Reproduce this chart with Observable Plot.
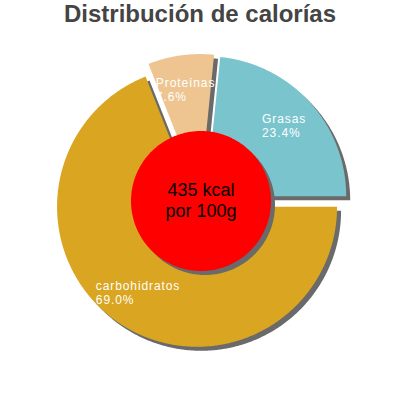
<!DOCTYPE html>
<html><head><meta charset="utf-8">
<script src="https://cdn.jsdelivr.net/npm/d3@7"></script>
<script src="https://cdn.jsdelivr.net/npm/@observablehq/plot@0.6"></script>
<style>
body{margin:0;background:#fff;}
#title{width:400px;height:35px;line-height:33px;text-align:center;font:bold 24px "Liberation Sans",Arial,sans-serif;color:#444;}
</style></head><body>
<div id="title"></div><div id="chart"></div>
<script>
const chartTitle = "Distribución de calorías";
const categories = ["Grasas", "Proteínas", "carbohidratos"];
const percents = [23.4, 7.6, 69.0];
const sliceColors = ["#7AC5CD", "#EEC591", "#DAA520"];
const centerLines = ["435 kcal", "por 100g"];

document.getElementById("title").textContent = chartTitle;

const R = 140, holeR = 70, explode = 7, labelR = 105, shadow = 4, shadowColor = "#6a6a6a";
const letterSp = 0.9;
const toMath = t => Math.PI / 2 - t; // d3 angle (cw from north) -> math angle

const arcs = d3.pie().sort(null).value(d => d)
  .startAngle(Math.PI / 2).endAngle(Math.PI / 2 - 2 * Math.PI)(percents);

const slices = arcs.map((a, i) => {
  const a0 = toMath(a.startAngle), a1 = toMath(a.endAngle);
  const mid = (a0 + a1) / 2;
  return {name: categories[i], color: sliceColors[i], value: percents[i], a0, a1, mid,
    ox: explode * Math.cos(mid), oy: explode * Math.sin(mid)};
});

const polyPts = slices.flatMap(s => {
  const pts = [{slice: s.name, color: s.color, x: s.ox, y: s.oy}];
  const n = Math.max(2, Math.ceil(Math.abs(s.a1 - s.a0) / (Math.PI / 360)));
  for (let k = 0; k <= n; k++) {
    const a = s.a0 + (s.a1 - s.a0) * k / n;
    pts.push({slice: s.name, color: s.color, x: s.ox + R * Math.cos(a), y: s.oy + R * Math.sin(a)});
  }
  return pts;
});

const circlePts = d3.range(0, 361).map(k => {
  const a = k * Math.PI / 180;
  return {x: holeR * Math.cos(a), y: holeR * Math.sin(a)};
});

const canvas = document.createElement("canvas");
const ctx = canvas.getContext("2d");
ctx.font = "12px 'Liberation Sans'";

const labelMarks = slices.flatMap(s => {
  const w = ctx.measureText(s.name).width + s.name.length * letterSp;
  const common = {
    x: d => d.ox + labelR * Math.cos(d.mid),
    y: d => d.oy + labelR * Math.sin(d.mid),
    textAnchor: "start", lineAnchor: "middle",
    dx: -w / 2, fill: "white", fontSize: 12
  };
  return [
    Plot.text([s], {...common, text: d => d.name, dy: -7}),
    Plot.text([s], {...common, text: d => `${d.value.toFixed(1)}%`, dy: 7})
  ];
});

const chart = Plot.plot({
  width: 400, height: 365, margin: 0,
  x: {domain: [-200.5, 199.5], axis: null},
  y: {domain: [-199.5, 165.5], axis: null},
  color: {type: "identity"},
  style: {background: "white", fontFamily: "'Liberation Sans', Arial, sans-serif"},
  marks: [
    Plot.line(polyPts, {x: "x", y: "y", z: "slice", fill: shadowColor, stroke: null, curve: "linear-closed", dx: shadow, dy: shadow}),
    Plot.line(polyPts, {x: "x", y: "y", z: "slice", fill: "color", stroke: null, curve: "linear-closed"}),
    Plot.line(circlePts, {x: "x", y: "y", fill: shadowColor, stroke: null, curve: "linear-closed", dx: shadow, dy: shadow}),
    Plot.line(circlePts, {x: "x", y: "y", fill: "#FF0000", stroke: null, curve: "linear-closed"}),
    ...labelMarks,
    Plot.text([centerLines[0]], {x: d => 0, y: d => 0, text: d => d, fontSize: 18, fill: "black", lineAnchor: "middle", dy: -11}),
    Plot.text([centerLines[1]], {x: d => 0, y: d => 0, text: d => d, fontSize: 18, fill: "black", lineAnchor: "middle", dy: 10})
  ]
});
d3.select(chart).selectAll('g[fill="white"] text').style("letter-spacing", letterSp + "px");
document.getElementById("chart").appendChild(chart);
</script>
</body></html>
